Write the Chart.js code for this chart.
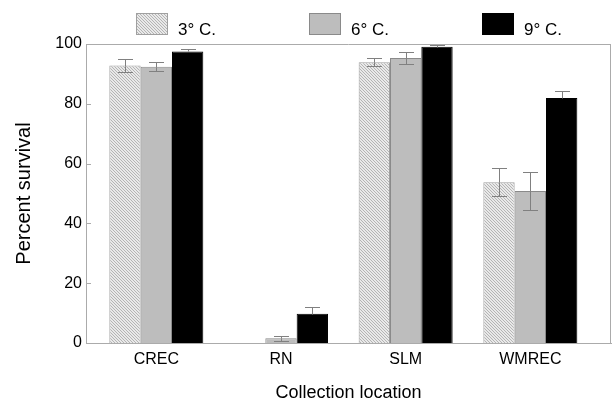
<!DOCTYPE html>
<html><head><meta charset="utf-8">
<script src="https://cdn.jsdelivr.net/npm/chart.js@4"></script>
<style>html,body{margin:0;padding:0;background:#fff;} #wrap{width:613px;height:402px;}</style>
</head><body><div id="wrap"><canvas id="c" width="613" height="402"></canvas></div>
<script>
// ---- data ----
const categories = ['CREC', 'RN', 'SLM', 'WMREC'];
const seriesLabels = ['3° C.', '6° C.', '9° C.'];
const survival3 = [92.8, 0, 93.9, 53.8];
const survival6 = [92.4, 1.6, 95.3, 50.8];
const survival9 = [97.5, 9.8, 99.1, 81.9];
const error3 = [2.1, 0, 1.3, 4.7];
const error6 = [1.5, 0.8, 1.9, 6.4];
const error9 = [0.9, 2.3, 0.5, 2.5];
const yTicks = [0, 20, 40, 60, 80, 100];

// ---- styles ----
const FONT = "'Liberation Sans', Arial, Helvetica, sans-serif";
Chart.defaults.font.family = FONT;
Chart.defaults.color = '#000';

function hatch() {
  const t = document.createElement('canvas');
  t.width = 3; t.height = 3;
  const g = t.getContext('2d');
  g.fillStyle = '#e9e9e9'; g.fillRect(0, 0, 3, 3);
  g.fillStyle = '#b4b4b4';
  for (let i = 0; i < 3; i++) g.fillRect(i, i, 1, 1);
  return document.getElementById('c').getContext('2d').createPattern(t, 'repeat');
}
const hatchFill = hatch();

function pts(vals) { return categories.map((c, i) => ({ x: i, y: vals[i] })); }

const AXIS = '#ababab';

const errorBars = {
  id: 'errorBars',
  afterDatasetsDraw(chart) {
    const ctx = chart.ctx, ys = chart.scales.y;
    ctx.save();
    ctx.strokeStyle = '#808080';
    ctx.lineWidth = 1;
    chart.data.datasets.forEach((ds, di) => {
      const meta = chart.getDatasetMeta(di);
      meta.data.forEach((el, j) => {
        const e = ds.errors[j];
        if (!e) return;
        const v = ds.data[j].y;
        const x = Math.round(el.x) + 0.5;
        const yt = Math.round(ys.getPixelForValue(v + e)) + 0.5;
        const yv = Math.round(ys.getPixelForValue(v)) + 0.5;
        const yb = Math.round(ys.getPixelForValue(Math.max(0, v - e))) + 0.5;
        const hw = 7.5;
        ctx.beginPath();
        ctx.moveTo(x, yt); ctx.lineTo(x, yv);
        ctx.moveTo(x - hw, yt); ctx.lineTo(x + hw, yt);
        if (ds.errorLower) {
          ctx.moveTo(x, yv); ctx.lineTo(x, yb);
          ctx.moveTo(x - hw, yb); ctx.lineTo(x + hw, yb);
        }
        ctx.stroke();
      });
    });
    ctx.restore();
  }
};

const frame = {
  id: 'frame',
  afterDraw(chart) {
    const ctx = chart.ctx, a = chart.chartArea, ys = chart.scales.y;
    ctx.save();
    ctx.strokeStyle = AXIS;
    ctx.lineWidth = 1;
    ctx.beginPath();
    ctx.moveTo(a.left, Math.round(a.top) + 0.5);
    ctx.lineTo(a.right, Math.round(a.top) + 0.5);
    ctx.moveTo(Math.round(a.right) - 0.5, a.top);
    ctx.lineTo(Math.round(a.right) - 0.5, a.bottom);
    ys.ticks.forEach(t => {
      const y = Math.round(ys.getPixelForValue(t.value)) + 0.5;
      ctx.moveTo(a.left, y); ctx.lineTo(a.left + 5, y);
    });
    ctx.stroke();
    // legend
    const cx = (a.left + a.right) / 2;
    ctx.font = '17px ' + FONT;
    ctx.textBaseline = 'alphabetic';
    ctx.textAlign = 'left';
    chart.data.datasets.forEach((ds, i) => {
      const x = Math.round(cx - 212.5 + i * 173);
      ctx.fillStyle = ds.backgroundColor;
      ctx.fillRect(x, 13, 32, 22);
      ctx.strokeStyle = ds.borderColor;
      ctx.strokeRect(x + 0.5, 13.5, 31, 21);
      ctx.fillStyle = '#000';
      ctx.fillText(ds.label, x + 42, 35);
    });
    ctx.restore();
  }
};

new Chart(document.getElementById('c'), {
  type: 'bar',
  data: {
    datasets: [
      { label: seriesLabels[0], data: pts(survival3), errors: error3, errorLower: true,
        backgroundColor: hatchFill, borderColor: '#a0a0a0', borderWidth: 1 },
      { label: seriesLabels[1], data: pts(survival6), errors: error6, errorLower: true,
        backgroundColor: '#bdbdbd', borderColor: '#8a8a8a', borderWidth: 1 },
      { label: seriesLabels[2], data: pts(survival9), errors: error9, errorLower: false,
        backgroundColor: '#000000', borderColor: '#000000', borderWidth: 1 }
    ]
  },
  options: {
    responsive: false,
    animation: false,
    events: [],
    devicePixelRatio: 1,
    categoryPercentage: 0.754,
    barPercentage: 1,
    layout: { padding: { top: 44, right: 2, left: 0, bottom: 0 } },
    plugins: { legend: { display: false }, tooltip: { enabled: false } },
    scales: {
      x: {
        type: 'linear', min: -0.564, max: 3.647, offset: false,
        grid: { display: false, drawTicks: false },
        border: { display: true, color: AXIS },
        ticks: {
          stepSize: 1, includeBounds: false, autoSkip: false, maxRotation: 0, padding: 7,
          font: { size: 16 }, color: '#000',
          callback: v => (Number.isInteger(v) && categories[v] !== undefined) ? categories[v] : ''
        },
        title: { display: true, text: 'Collection location', font: { size: 18, lineHeight: 1 },
                 color: '#000', padding: { top: 0, bottom: 0 } },
        afterFit: s => { s.height = 59; }
      },
      y: {
        min: yTicks[0], max: yTicks[yTicks.length - 1],
        grid: { display: false, drawTicks: false },
        border: { display: true, color: AXIS },
        ticks: { stepSize: yTicks[1] - yTicks[0], padding: 4, font: { size: 16 }, color: '#000' },
        title: { display: true, text: 'Percent survival', font: { size: 20, lineHeight: 1.2 },
                 color: '#000', padding: { top: 12, bottom: 0 } },
        afterFit: s => { s.width = 86; }
      }
    }
  },
  plugins: [errorBars, frame]
});
</script>
</body></html>
